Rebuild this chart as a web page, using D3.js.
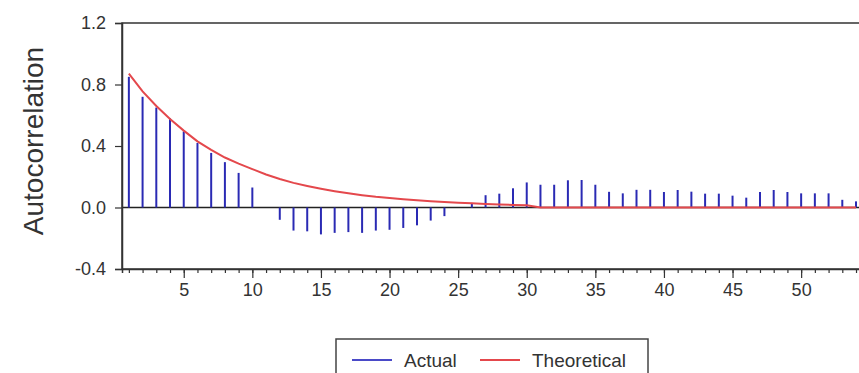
<!DOCTYPE html>
<html>
<head>
<meta charset="utf-8">
<script src="https://cdn.jsdelivr.net/npm/d3@7"></script>
<style>
  body { margin:0; background:#fff; overflow:hidden; }
  text { font-family: "Liberation Sans", Arial, sans-serif; fill:#333; }
</style>
</head>
<body>
<div id="acf"></div>
<script>
// lags and the two series
const lags = [1,2,3,4,5,6,7,8,9,10,11,12,13,14,15,16,17,18,19,20,21,22,23,24,25,26,27,
  28,29,30,31,32,33,34,35,36,37,38,39,40,41,42,43,44,45,46,47,48,49,50,51,52,53,54];
const actual = [0.85,0.72,0.65,0.58,0.495,0.42,0.355,0.295,0.225,0.13,
  0,-0.08,-0.15,-0.155,-0.175,-0.165,-0.16,-0.165,-0.15,-0.145,-0.133,-0.116,-0.085,-0.056,0,
  0.03,0.08,0.09,0.125,0.163,0.148,0.148,0.177,0.179,0.148,0.102,0.092,0.115,0.115,0.101,
  0.114,0.103,0.09,0.09,0.077,0.064,0.101,0.114,0.101,0.092,0.092,0.092,0.05,0.04];
const theoretical = [0.87,0.755,0.66,0.575,0.50,0.43,0.375,0.325,0.285,0.25,
  0.215,0.185,0.16,0.14,0.122,0.106,0.092,0.08,0.07,0.062,0.054,0.047,0.041,0.036,0.031,
  0.027,0.023,0.02,0.017,0.015,0,0,0,0,0,0,0,0,0,0,0,0,0,0,0,0,0,0,0,0,0,0,0,0];
const yTicks = [-0.4, 0.0, 0.4, 0.8, 1.2];
const yTickLabels = ["-0.4", "0.0", "0.4", "0.8", "1.2"];
const majorLags = [5,10,15,20,25,30,35,40,45,50];
const seriesNames = ["Actual", "Theoretical"];

const W = 859, H = 373;
const m = { top:23, left:122, bottom:104 };
const ih = H - m.top - m.bottom;

const svg = d3.select("#acf").append("svg").attr("width", W).attr("height", H);
const g = svg.append("g").attr("transform", `translate(${m.left},${m.top})`);

// plot runs off the right edge of the picture, like the original
const x = d3.scaleLinear().domain([0.5, 56]).range([0, 13.72*55.5]);
const y = d3.scaleLinear().domain([-0.4, 1.2]).range([ih, 0]);
const iw = x.range()[1];

// frame (top + right)
g.append("rect").attr("x",0).attr("y",0).attr("width",iw).attr("height",ih)
  .attr("fill","none").attr("stroke","#333").attr("stroke-width",1.5);

// zero line
g.append("line").attr("x1",0).attr("x2",iw).attr("y1",y(0)).attr("y2",y(0))
  .attr("stroke","#222").attr("stroke-width",1.5);

// axes
const yAxis = g.append("g").call(d3.axisLeft(y).tickValues(yTicks).tickSize(7).tickPadding(9)
  .tickFormat((d,i) => yTickLabels[i]));
const xMinor = g.append("g").attr("transform",`translate(0,${ih})`)
  .call(d3.axisBottom(x).tickValues(lags.concat([55])).tickSize(4).tickFormat(""));
const xMajor = g.append("g").attr("transform",`translate(0,${ih})`)
  .call(d3.axisBottom(x).tickValues(majorLags.concat([55])).tickSize(9).tickPadding(5)
    .tickFormat(d => majorLags.includes(d) ? d : ""));
[yAxis, xMinor, xMajor].forEach(a => {
  a.select(".domain").attr("stroke","#333").attr("stroke-width",1.5);
  a.selectAll(".tick line").attr("stroke","#333").attr("stroke-width",1.2);
  a.selectAll("text").style("font-size","18px").attr("fill","#333");
});
xMajor.select(".domain").remove();

g.append("text").attr("transform","rotate(-90)")
  .attr("x",-ih/2+5).attr("y",-79).attr("text-anchor","middle")
  .style("font-size","28px").text("Autocorrelation");

// actual spikes
g.selectAll(".spike").data(lags).enter().append("line").attr("class","spike")
  .attr("x1", d => x(d)).attr("x2", d => x(d))
  .attr("y1", y(0)).attr("y2", (d,i) => y(actual[i]))
  .attr("stroke","#2a2ab4").attr("stroke-width",2);

// theoretical line
const line = d3.line().x(d => x(d)).y((d,i) => y(theoretical[i]));
g.append("path").datum(lags).attr("d", line)
  .attr("fill","none").attr("stroke","#e4484c").attr("stroke-width",2);

// legend
const lg = svg.append("g").attr("transform","translate(336,339)");
lg.append("rect").attr("width",312).attr("height",50)
  .attr("fill","#fff").attr("stroke","#444").attr("stroke-width",1.5);
const colors = ["#4a4ac8", "#e4484c"];
const offs = [16, 144];
seriesNames.forEach((s,i) => {
  lg.append("line").attr("x1",offs[i]).attr("x2",offs[i]+40).attr("y1",21).attr("y2",21)
    .attr("stroke",colors[i]).attr("stroke-width",2);
  lg.append("text").attr("x",offs[i]+52).attr("y",28)
    .style("font-size","19px").text(s);
});
</script>
</body>
</html>
